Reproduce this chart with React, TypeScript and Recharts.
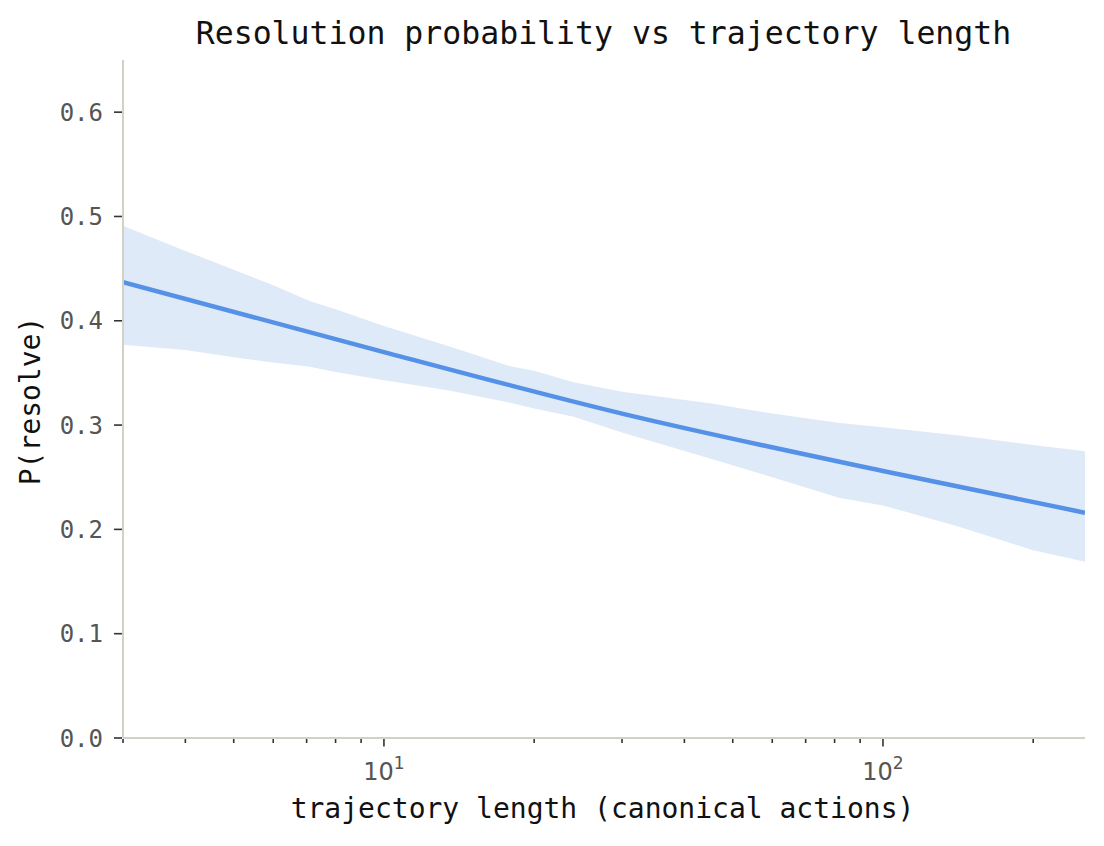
import React from "react";
import { ComposedChart, Area, Line, XAxis, YAxis } from "recharts";

// trajectory length (canonical actions), log scale
const xValues = [3, 4, 5, 6, 7.1, 8, 10, 13.6, 17.7, 20, 24, 30, 45, 60, 82, 100, 142, 200, 254];
// fitted P(resolve), read at the main checkpoints (null = not read, line passes smoothly)
const meanValues: (number | null)[] = [0.437, null, null, null, null, null, 0.370, null, null, null, null, 0.311, null, null, null, 0.256, null, null, 0.216];
// confidence band
const lowerValues = [0.377, 0.372, 0.365, 0.360, 0.356, 0.351, 0.343, 0.333, 0.322, 0.316, 0.308, 0.293, 0.268, 0.250, 0.230, 0.223, 0.2025, 0.180, 0.169];
const upperValues = [0.491, 0.467, 0.449, 0.434, 0.419, 0.411, 0.395, 0.375, 0.357, 0.352, 0.341, 0.332, 0.321, 0.311, 0.302, 0.298, 0.290, 0.281, 0.275];

const xTicks = [3, 4, 5, 6, 7, 8, 9, 10, 20, 30, 40, 50, 60, 70, 80, 90, 100, 200];
const xMajor: Record<number, string> = { 10: "1", 100: "2" };
const yTicks = [0, 0.1, 0.2, 0.3, 0.4, 0.5, 0.6];

const data = xValues.map((x, i) => ({
  x,
  mean: meanValues[i],
  band: [lowerValues[i], upperValues[i]],
}));

const MONO = "'DejaVu Sans Mono', monospace";
const TICK_COLOR = "#555555";
const AXIS_COLOR = "#d3d0c4";

const XTick = (props: any) => {
  const { x, y, payload } = props;
  const v = payload.value;
  const sup = xMajor[v];
  return (
    <g>
      <line x1={x} x2={x} y1={y + 1} y2={y + (sup ? 8.5 : 5)} stroke="#333" strokeWidth={1.6} />
      {sup ? (
        <text x={x} y={y + 42} textAnchor="middle" fill={TICK_COLOR} fontFamily="'DejaVu Sans', sans-serif" fontSize={24}>
          <tspan>10</tspan>
          <tspan dy={-11} fontSize={17}>{sup}</tspan>
        </text>
      ) : null}
    </g>
  );
};

const YTick = (props: any) => {
  const { x, y, payload } = props;
  return (
    <g>
      <line x1={x - 9} x2={x - 1} y1={y} y2={y} stroke="#333" strokeWidth={1.6} />
      <text x={x - 20} y={y + 8.6} textAnchor="end" fill={TICK_COLOR} fontFamily={MONO} fontSize={24}>
        {Number(payload.value).toFixed(1)}
      </text>
    </g>
  );
};

export default function App() {
  return (
    <div style={{ position: "relative", width: 1096, height: 830 }}>
      <ComposedChart
        width={1096}
        height={830}
        data={data}
        margin={{ top: 52, right: 19, left: 15, bottom: 40 }}
      >
        <XAxis
          dataKey="x"
          type="number"
          scale="log"
          domain={[3, 254]}
          allowDataOverflow
          ticks={xTicks}
          interval={0}
          tickSize={0}
          tickMargin={0}
          tickLine={false}
          tick={<XTick />}
          height={60}
          axisLine={{ stroke: AXIS_COLOR, strokeWidth: 2 }}
        />
        <YAxis
          type="number"
          domain={[0, 0.65]}
          allowDataOverflow
          ticks={yTicks}
          interval={0}
          tickSize={0}
          tickMargin={0}
          tickLine={false}
          tick={<YTick />}
          width={100}
          axisLine={{ stroke: AXIS_COLOR, strokeWidth: 2 }}
        />
        <Area
          dataKey="band"
          type="linear"
          stroke="none"
          fill="#dfeaf8"
          fillOpacity={1}
          dot={false}
          activeDot={false}
          isAnimationActive={false}
        />
        <Line
          dataKey="mean"
          type="monotone"
          connectNulls
          stroke="#5591e6"
          strokeWidth={4.5}
          dot={false}
          activeDot={false}
          isAnimationActive={false}
        />
      </ComposedChart>
      <svg
        width={1096}
        height={830}
        style={{ position: "absolute", left: 0, top: 0, pointerEvents: "none" }}
      >
        <text x={595.5} y={36} textAnchor="middle" fontFamily={MONO} fontSize={31.5} fill="#111">
          Resolution probability vs trajectory length
        </text>
        <text x={594.5} y={810} textAnchor="middle" fontFamily={MONO} fontSize={28} fill="#111">
          trajectory length (canonical actions)
        </text>
        <text
          x={0}
          y={0}
          transform="translate(32,393) rotate(-90)"
          textAnchor="middle"
          fontFamily={MONO}
          fontSize={28}
          fill="#111"
        >
          P(resolve)
        </text>
      </svg>
    </div>
  );
}
